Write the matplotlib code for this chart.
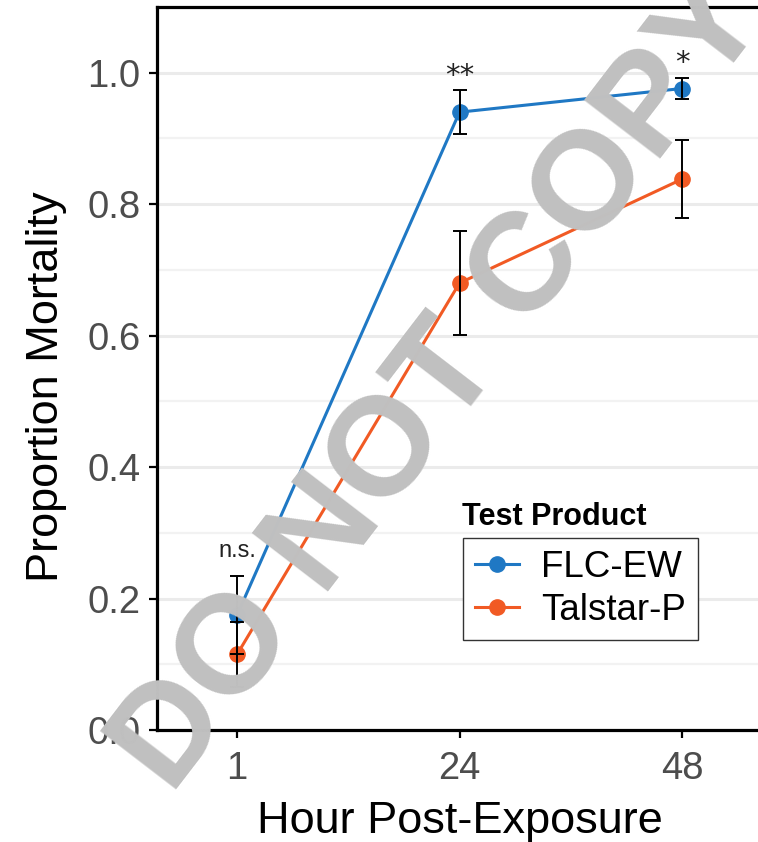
import numpy as np
import matplotlib
matplotlib.use("Agg")
import matplotlib.pyplot as plt
from matplotlib.ticker import MultipleLocator

plt.rcParams['font.family'] = ['Liberation Sans', 'DejaVu Sans']

# data
hours = ["1", "24", "48"]
flc_mean = [0.175, 0.940, 0.976]
flc_err = [0.060, 0.033, 0.016]
tal_mean = [0.115, 0.680, 0.838]
tal_err = [0.050, 0.079, 0.059]
sig_labels = ["n.s.", "**", "*"]

col_flc = '#1f78c4'
col_tal = '#f15a24'

fig = plt.figure(figsize=(7.58, 8.42), dpi=100)
ax = fig.add_axes([157/758, 112/842, 605/758, 723/842])

x = np.arange(len(hours))

# grid
ax.yaxis.set_major_locator(MultipleLocator(0.2))
ax.yaxis.set_minor_locator(MultipleLocator(0.1))
ax.grid(axis='y', which='major', color='#ebebeb', linewidth=2.2, zorder=0)
ax.grid(axis='y', which='minor', color='#f2f2f2', linewidth=1.6, zorder=0)
ax.grid(axis='x', visible=False)
ax.set_axisbelow(True)

ax.plot(x, flc_mean, '-o', color=col_flc, lw=2.2, ms=11, label='FLC-EW', zorder=3)
ax.plot(x, tal_mean, '-o', color=col_tal, lw=2.2, ms=11, label='Talstar-P', zorder=3)
ax.errorbar(x, flc_mean, yerr=flc_err, fmt='none', ecolor='black', elinewidth=1.4,
            capsize=4.8, capthick=1.4, zorder=4)
ax.errorbar(x, tal_mean, yerr=tal_err, fmt='none', ecolor='black', elinewidth=1.4,
            capsize=4.8, capthick=1.4, zorder=4)

# significance labels above the highest bar
for i, lab in enumerate(sig_labels):
    top = max(flc_mean[i] + flc_err[i], tal_mean[i] + tal_err[i])
    if '*' in lab:
        ax.text(x[i], top + 0.01, lab, ha='center', va='baseline', fontsize=21,
                color='#222222', family='DejaVu Sans')
    else:
        ax.text(x[i], top + 0.028, lab, ha='center', va='baseline', fontsize=17,
                color='#222222')

ax.set_xlim(-0.36, 2.36)
ax.set_ylim(0, 1.10)
ax.set_xticks(x)
ax.set_xticklabels(hours)
ax.set_yticks([0.0, 0.2, 0.4, 0.6, 0.8, 1.0])
ax.set_yticklabels(["0.0", "0.2", "0.4", "0.6", "0.8", "1.0"])
ax.tick_params(axis='both', which='major', labelsize=27.5, labelcolor='#4d4d4d',
               length=6, width=1.6, color='black')
ax.tick_params(axis='x', pad=9)
ax.tick_params(axis='y', pad=6)
ax.tick_params(which='minor', length=0)

for s in ax.spines.values():
    s.set_linewidth(2.3)
    s.set_color('black')

ax.set_xlabel("Hour Post-Exposure", fontsize=32.5, labelpad=10)
fig.text(47/758, 1 - 387/842, "Proportion Mortality", rotation=90, fontsize=32.5,
         ha='center', va='center')

leg = ax.legend(loc='upper left', bbox_to_anchor=(463/758, 1 - 538/842),
                bbox_transform=fig.transFigure, borderaxespad=0, fontsize=26.5,
                frameon=True, fancybox=False, framealpha=1, edgecolor='#333333',
                handlelength=1.2, handletextpad=0.6, borderpad=0.33, labelspacing=0.22)
leg.get_frame().set_linewidth(1.0)
fig.text(462/758, 1 - 517/842, "Test Product", fontsize=22, fontweight='bold',
         ha='left', va='center')

# watermark
fig.text(442/758, 1 - 385/842, "DO NOT COPY", rotation=52.5, rotation_mode='anchor',
         fontsize=101, fontweight='bold', color='#c0c0c0', ha='center', va='center',
         zorder=10)

fig.savefig("out.png", dpi=100)
